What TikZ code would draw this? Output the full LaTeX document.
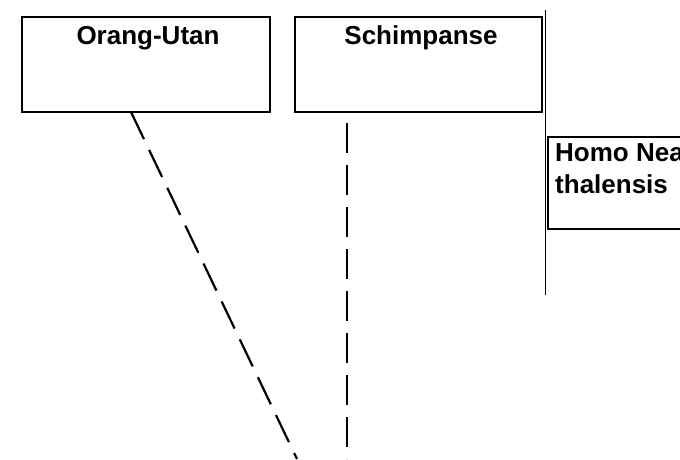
\documentclass[tikz,border=0pt]{standalone}
\usepackage{fontspec}
\setmainfont{Liberation Sans}
\begin{document}
\begin{tikzpicture}[x=1pt,y=-1pt,
  boxst/.style={draw,line width=2pt},
  lbl/.style={font=\fontsize{26}{32}\selectfont\bfseries},
  dsh/.style={line width=2.2pt,dash pattern=on 30pt off 12pt}]
\useasboundingbox (0,0) rectangle (680,459);
\clip (0,0) rectangle (680,459);
\fill[white] (0,0) rectangle (680,459);
\draw[boxst] (22,17) rectangle (270,112);
\draw[boxst] (295,17) rectangle (542,112);
\draw[boxst] (548,137) rectangle (700,229);
\node[lbl] (ou) at (148,38) {Orang-Utan};
\node[lbl] (sc) at (421,38) {Schimpanse};
\node[lbl,anchor=north west,align=left,inner sep=0pt] (ho) at (555,142) {Homo Neander\\thalensis};
\coordinate (a1) at (131,112);
\coordinate (a2) at (297,459);
\coordinate (b1) at (347,123);
\coordinate (b2) at (347,459);
\coordinate (c1) at (545,10);
\coordinate (c2) at (545,295);
\draw[dsh] (a1) -- (a2);
\draw[dsh] (b1) -- (b2);
\draw[line width=1pt] (c1) -- (c2);
\end{tikzpicture}
\end{document}
